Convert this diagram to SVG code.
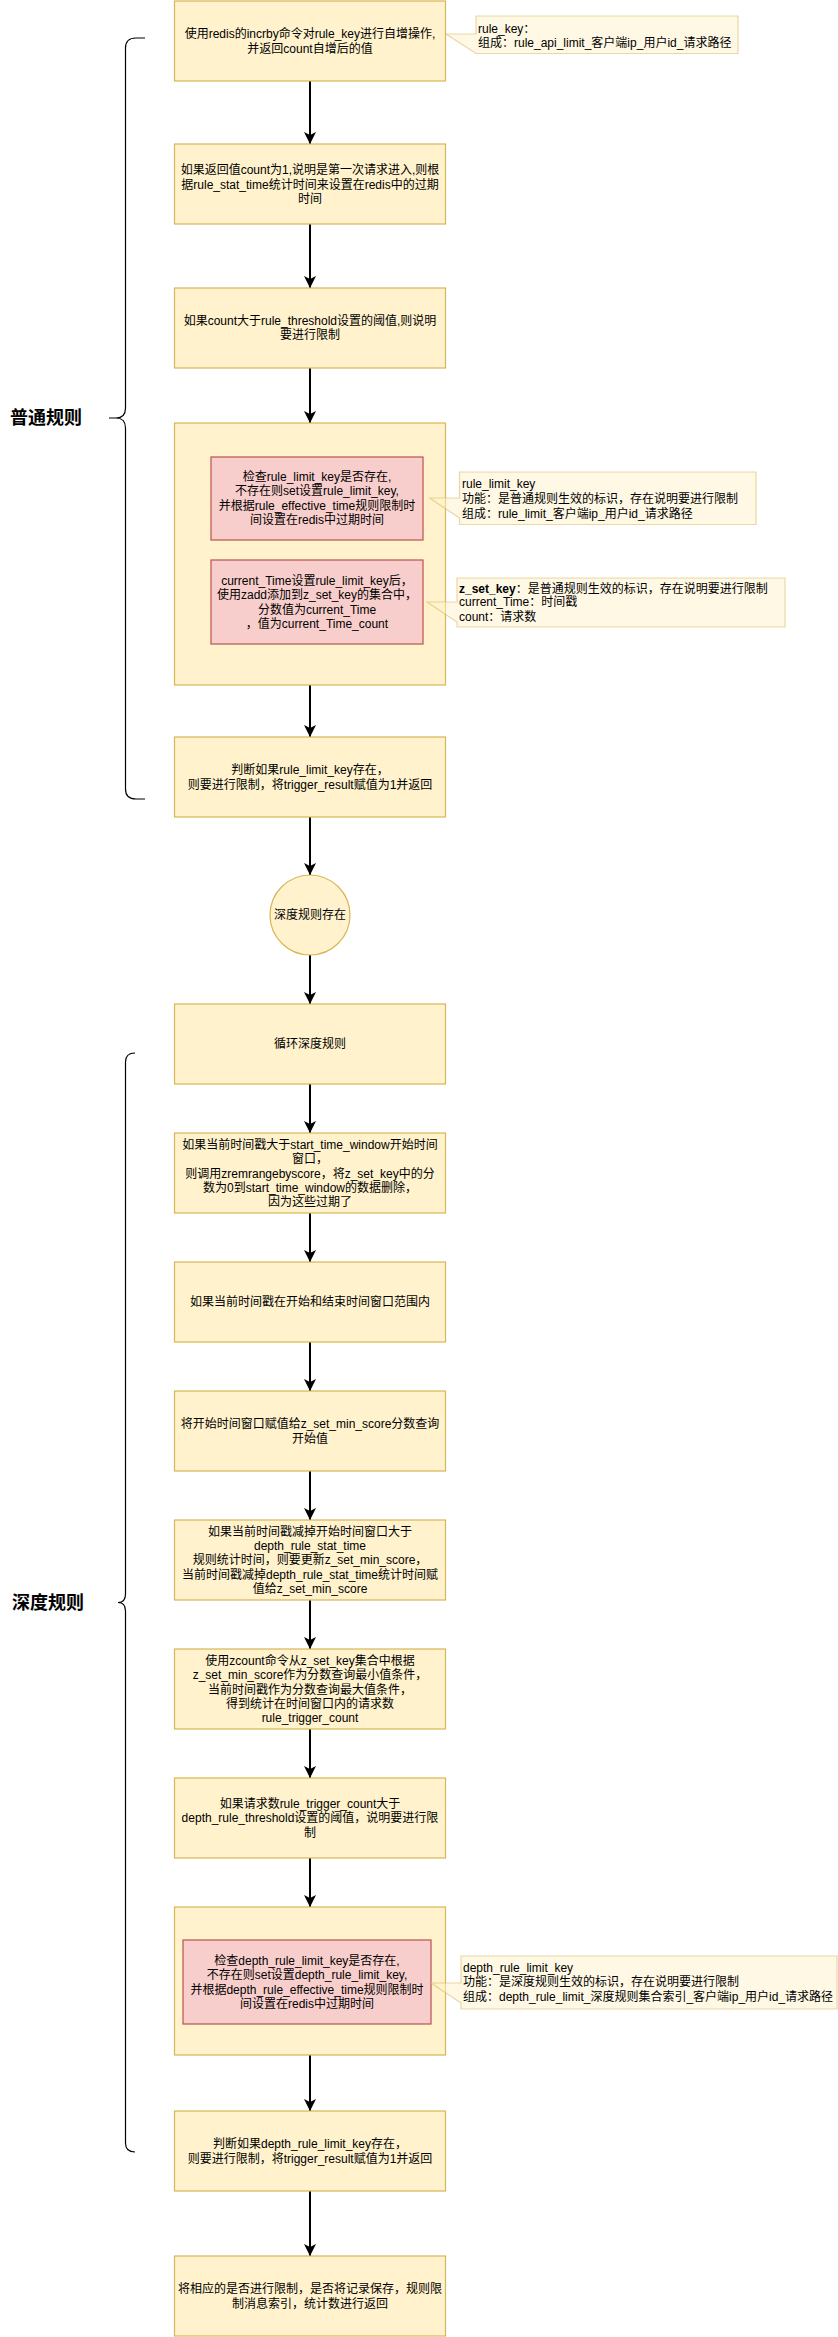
<svg xmlns="http://www.w3.org/2000/svg" width="838" height="2337" viewBox="0 0 838 2337">
<defs>
<style>
.box{fill:#fff2cc;stroke:#d6b656;stroke-width:1.2}
.red{fill:#f8cecc;stroke:#b85450;stroke-width:1.2}
.note{fill:#fff2cc;fill-opacity:0.5;stroke:#d6b656;stroke-opacity:0.5;stroke-width:1.2}
text{font-family:"Liberation Sans","Noto Sans CJK SC",sans-serif;font-size:12px;fill:#000}
.c{text-anchor:middle}
.l{text-anchor:start}
.lbl{font-size:18px;font-weight:bold;text-anchor:middle}
.edge{stroke:#000;stroke-width:2;fill:none}
.br{stroke:#000;stroke-width:1.2;fill:none}
</style>
<marker id="arr" viewBox="0 0 12 12" refX="12" refY="6" markerWidth="12" markerHeight="12" markerUnits="userSpaceOnUse" orient="auto">
<path d="M0,0 L12,6 L0,12 L3,6 Z" fill="#000"/>
</marker>
</defs>

<g id="brackets">
<path class="br" d="M145,38 L136,38 Q125.5,38 125.5,48 L125.5,408 Q125.5,418 116,418 L109,418 M116,418 Q125.5,418 125.5,428 L125.5,789 Q125.5,799 136,799 L145,799"/>
<text class="lbl" x="46" y="424">普通规则</text>
<path class="br" d="M135,1053 Q125.5,1053 125.5,1062 L125.5,1594 Q125.5,1602.5 118,1602.5 Q125.5,1602.5 125.5,1611 L125.5,2143 Q125.5,2152 135,2152"/>
<text class="lbl" x="48" y="1609">深度规则</text>
</g>

<g id="connectors">
<line class="edge" x1="310" y1="81" x2="310" y2="144" marker-end="url(#arr)"/>
<line class="edge" x1="310" y1="224" x2="310" y2="288" marker-end="url(#arr)"/>
<line class="edge" x1="310" y1="368" x2="310" y2="423" marker-end="url(#arr)"/>
<line class="edge" x1="310" y1="685" x2="310" y2="737" marker-end="url(#arr)"/>
<line class="edge" x1="310" y1="817" x2="310" y2="875" marker-end="url(#arr)"/>
<line class="edge" x1="310" y1="955" x2="310" y2="1004" marker-end="url(#arr)"/>
<line class="edge" x1="310" y1="1084" x2="310" y2="1133" marker-end="url(#arr)"/>
<line class="edge" x1="310" y1="1213" x2="310" y2="1262" marker-end="url(#arr)"/>
<line class="edge" x1="310" y1="1342" x2="310" y2="1391" marker-end="url(#arr)"/>
<line class="edge" x1="310" y1="1471" x2="310" y2="1520" marker-end="url(#arr)"/>
<line class="edge" x1="310" y1="1600" x2="310" y2="1649" marker-end="url(#arr)"/>
<line class="edge" x1="310" y1="1729" x2="310" y2="1778" marker-end="url(#arr)"/>
<line class="edge" x1="310" y1="1858" x2="310" y2="1907" marker-end="url(#arr)"/>
<line class="edge" x1="310" y1="2055" x2="310" y2="2111" marker-end="url(#arr)"/>
<line class="edge" x1="310" y1="2191" x2="310" y2="2256" marker-end="url(#arr)"/>
</g>

<g id="n1">
<rect class="box" x="174.5" y="1" width="271" height="80"/>
<text class="c" x="310" y="37.5">使用redis的incrby命令对rule_key进行自增操作,</text>
<text class="c" x="310" y="53.2">并返回count自增后的值</text>
</g>

<g id="note_rule_key">
<polygon class="note" points="476,16 738,16 738,53.5 476,53.5 446,34 476,34"/>
<text class="l" x="478" y="32.5">rule_key：</text>
<text class="l" x="478" y="47">组成：rule_api_limit_客户端ip_用户id_请求路径</text>
</g>

<g id="n2">
<rect class="box" x="174.5" y="144" width="271" height="80"/>
<text class="c" x="310" y="174.2">如果返回值count为1,说明是第一次请求进入,则根</text>
<text class="c" x="310" y="188.6">据rule_stat_time统计时间来设置在redis中的过期</text>
<text class="c" x="310" y="203">时间</text>
</g>

<g id="n3">
<rect class="box" x="174.5" y="288" width="271" height="80"/>
<text class="c" x="310" y="325">如果count大于rule_threshold设置的阈值,则说明</text>
<text class="c" x="310" y="339.4">要进行限制</text>
</g>

<g id="n4">
<rect class="box" x="174.5" y="423" width="271" height="262"/>
</g>

<g id="n4a">
<rect class="red" x="211" y="457" width="212" height="83"/>
<text class="c" x="317" y="481">检查rule_limit_key是否存在,</text>
<text class="c" x="317" y="495.2">不存在则set设置rule_limit_key,</text>
<text class="c" x="317" y="509.6">并根据rule_effective_time规则限制时</text>
<text class="c" x="317" y="523.8">间设置在redis中过期时间</text>
</g>

<g id="n4b">
<rect class="red" x="211" y="560" width="212" height="84"/>
<text class="c" x="317" y="585.2">current_Time设置rule_limit_key后，</text>
<text class="c" x="317" y="599.4">使用zadd添加到z_set_key的集合中，</text>
<text class="c" x="317" y="614">分数值为current_Time</text>
<text class="c" x="317" y="628">，值为current_Time_count</text>
</g>

<g id="note_rule_limit_key">
<polygon class="note" points="459.5,472 756,472 756,524.5 459.5,524.5 459.5,518 429.5,498 459.5,498"/>
<text class="l" x="462" y="487.5">rule_limit_key</text>
<text class="l" x="462" y="502.5">功能：是普通规则生效的标识，存在说明要进行限制</text>
<text class="l" x="462" y="517.5">组成：rule_limit_客户端ip_用户id_请求路径</text>
</g>

<g id="note_z_set_key">
<polygon class="note" points="457,578 785,578 785,627 457,627 457,622 427,602 457,602"/>
<text class="l" x="459" y="592.5"><tspan font-weight="bold">z_set_key</tspan>：是普通规则生效的标识，存在说明要进行限制</text>
<text class="l" x="459" y="606">current_Time：时间戳</text>
<text class="l" x="459" y="621">count：请求数</text>
</g>

<g id="n5">
<rect class="box" x="174.5" y="737" width="271" height="80"/>
<text class="c" x="310" y="773.5">判断如果rule_limit_key存在，</text>
<text class="c" x="310" y="788.5">则要进行限制，将trigger_result赋值为1并返回</text>
</g>

<g id="n6">
<circle cx="310" cy="915" r="40" class="box"/>
<text class="c" x="310" y="919.2">深度规则存在</text>
</g>

<g id="n7">
<rect class="box" x="174.5" y="1004" width="271" height="80"/>
<text class="c" x="310" y="1048">循环深度规则</text>
</g>

<g id="n8">
<rect class="box" x="174.5" y="1133" width="271" height="80"/>
<text class="c" x="310" y="1148.5">如果当前时间戳大于start_time_window开始时间</text>
<text class="c" x="310" y="1163">窗口，</text>
<text class="c" x="310" y="1177.5">则调用zremrangebyscore，将z_set_key中的分</text>
<text class="c" x="310" y="1191.5">数为0到start_time_window的数据删除，</text>
<text class="c" x="310" y="1206">因为这些过期了</text>
</g>

<g id="n9">
<rect class="box" x="174.5" y="1262" width="271" height="80"/>
<text class="c" x="310" y="1306.2">如果当前时间戳在开始和结束时间窗口范围内</text>
</g>

<g id="n10">
<rect class="box" x="174.5" y="1391" width="271" height="80"/>
<text class="c" x="310" y="1428.2">将开始时间窗口赋值给z_set_min_score分数查询</text>
<text class="c" x="310" y="1442.5">开始值</text>
</g>

<g id="n11">
<rect class="box" x="174.5" y="1520" width="271" height="80"/>
<text class="c" x="310" y="1536">如果当前时间戳减掉开始时间窗口大于</text>
<text class="c" x="310" y="1550.2">depth_rule_stat_time</text>
<text class="c" x="310" y="1564.3">规则统计时间，则要更新z_set_min_score，</text>
<text class="c" x="310" y="1579">当前时间戳减掉depth_rule_stat_time统计时间赋</text>
<text class="c" x="310" y="1593">值给z_set_min_score</text>
</g>

<g id="n12">
<rect class="box" x="174.5" y="1649" width="271" height="80"/>
<text class="c" x="310" y="1665">使用zcount命令从z_set_key集合中根据</text>
<text class="c" x="310" y="1679.3">z_set_min_score作为分数查询最小值条件，</text>
<text class="c" x="310" y="1693.6">当前时间戳作为分数查询最大值条件，</text>
<text class="c" x="310" y="1708.2">得到统计在时间窗口内的请求数</text>
<text class="c" x="310" y="1722.3">rule_trigger_count</text>
</g>

<g id="n13">
<rect class="box" x="174.5" y="1778" width="271" height="80"/>
<text class="c" x="310" y="1807.6">如果请求数rule_trigger_count大于</text>
<text class="c" x="310" y="1822">depth_rule_threshold设置的阈值，说明要进行限</text>
<text class="c" x="310" y="1836.5">制</text>
</g>

<g id="n14">
<rect class="box" x="174.5" y="1907" width="271" height="148"/>
</g>

<g id="n14a">
<rect class="red" x="183" y="1940" width="248" height="84"/>
<text class="c" x="307" y="1965">检查depth_rule_limit_key是否存在,</text>
<text class="c" x="307" y="1979.3">不存在则set设置depth_rule_limit_key,</text>
<text class="c" x="307" y="1993.6">并根据depth_rule_effective_time规则限制时</text>
<text class="c" x="307" y="2007.6">间设置在redis中过期时间</text>
</g>

<g id="note_depth_rule_limit_key">
<polygon class="note" points="461,1956 837,1956 837,2009 461,2009 461,2003 431,1983 461,1983"/>
<text class="l" x="463" y="1972.3">depth_rule_limit_key</text>
<text class="l" x="463" y="1985.5">功能：是深度规则生效的标识，存在说明要进行限制</text>
<text class="l" x="463" y="2001.3">组成：depth_rule_limit_深度规则集合索引_客户端ip_用户id_请求路径</text>
</g>

<g id="n15">
<rect class="box" x="174.5" y="2111" width="271" height="80"/>
<text class="c" x="310" y="2148.3">判断如果depth_rule_limit_key存在，</text>
<text class="c" x="310" y="2163">则要进行限制，将trigger_result赋值为1并返回</text>
</g>

<g id="n16">
<rect class="box" x="174.5" y="2256" width="271" height="80"/>
<text class="c" x="310" y="2293.3">将相应的是否进行限制，是否将记录保存，规则限</text>
<text class="c" x="310" y="2307.6">制消息索引，统计数进行返回</text>
</g>
</svg>
